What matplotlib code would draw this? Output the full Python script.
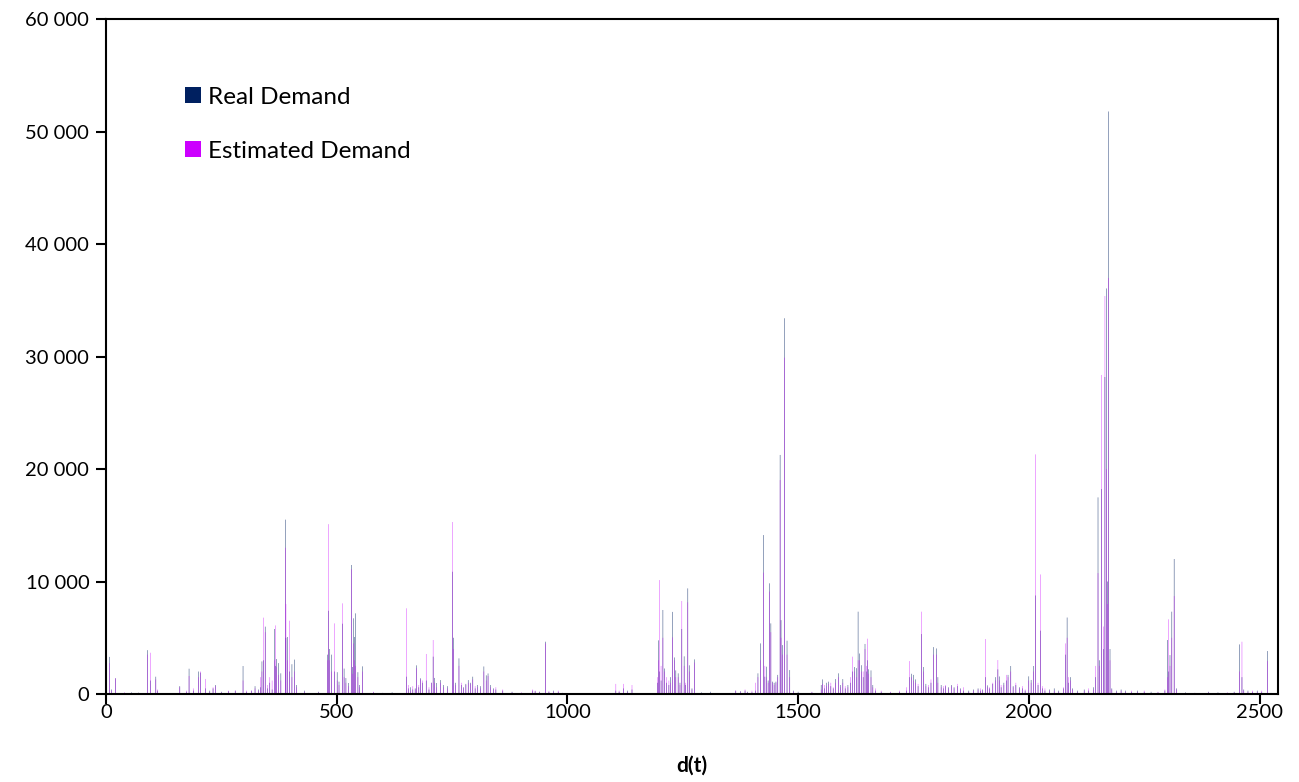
import matplotlib
matplotlib.use("Agg")
import matplotlib.pyplot as plt
from matplotlib.patches import Patch
from matplotlib.ticker import FuncFormatter

plt.rcParams['font.family'] = ['Lato', 'DejaVu Sans']

# time index of each non-zero observation
t_index = [8, 12, 21, 40, 55, 70, 90, 97, 108, 112, 160, 175, 180, 190, 200, 205, 216, 225, 232, 237,
           250, 265, 280, 297, 305, 315, 323, 330, 335, 338, 341, 345, 350, 355, 360, 365, 367, 369, 374, 379,
           389, 390, 393, 398, 403, 409, 413, 430, 460, 480, 482, 485, 489, 495, 501, 505, 512, 516, 520, 525,
           532, 534, 537, 539, 541, 546, 550, 556, 580, 600, 620, 651, 655, 660, 665, 670, 673, 678, 682, 686,
           694, 700, 706, 709, 712, 716, 725, 732, 740, 751, 753, 758, 765, 770, 775, 780, 785, 790, 795, 800,
           805, 812, 819, 824, 828, 833, 840, 845, 860, 880, 900, 925, 930, 940, 952, 960, 970, 980, 990, 1020,
           1060, 1105, 1112, 1122, 1130, 1140, 1195, 1198, 1200, 1203, 1207, 1210, 1215, 1220, 1224, 1228, 1232, 1235, 1240, 1244,
           1248, 1253, 1256, 1261, 1264, 1270, 1276, 1290, 1310, 1365, 1375, 1385, 1390, 1400, 1408, 1413, 1419, 1425, 1428, 1431,
           1435, 1438, 1441, 1445, 1448, 1452, 1456, 1461, 1463, 1466, 1471, 1476, 1482, 1490, 1500, 1530, 1550, 1553, 1557, 1562,
           1566, 1571, 1576, 1581, 1587, 1592, 1597, 1602, 1608, 1614, 1618, 1622, 1626, 1630, 1633, 1637, 1641, 1645, 1648, 1650,
           1653, 1658, 1662, 1668, 1680, 1700, 1720, 1735, 1742, 1746, 1750, 1755, 1760, 1768, 1772, 1777, 1782, 1788, 1794, 1800,
           1803, 1810, 1815, 1820, 1826, 1832, 1838, 1845, 1852, 1858, 1870, 1880, 1890, 1895, 1900, 1906, 1910, 1915, 1922, 1928,
           1933, 1936, 1940, 1946, 1952, 1955, 1961, 1966, 1972, 1980, 1986, 1992, 2000, 2005, 2010, 2015, 2020, 2025, 2030, 2035,
           2045, 2055, 2065, 2075, 2080, 2083, 2086, 2090, 2095, 2105, 2120, 2130, 2140, 2145, 2150, 2153, 2158, 2162, 2165, 2168,
           2171, 2173, 2176, 2180, 2190, 2200, 2210, 2222, 2235, 2250, 2265, 2280, 2295, 2301, 2303, 2306, 2310, 2315, 2320, 2340,
           2360, 2390, 2410, 2430, 2445, 2457, 2462, 2466, 2475, 2485, 2495, 2505, 2517, 2525]

real_demand = [3300, 400, 1400, 100, 150, 120, 3900, 1200, 1540, 300, 700, 200, 2250, 300, 2000, 1900, 500, 300, 500, 800,
               200, 250, 300, 2490, 200, 300, 700, 400, 600, 2900, 3000, 5990, 500, 1000, 400, 5780, 2500, 3110, 2750, 1840,
               15500, 5000, 5070, 2000, 2650, 3060, 800, 300, 200, 3500, 7400, 4000, 3500, 2000, 1940, 1100, 6250, 2260, 1420, 980,
               11470, 2400, 6730, 5070, 7170, 1940, 800, 2460, 150, 100, 150, 1540, 500, 600, 400, 500, 2550, 600, 1400, 1000,
               1200, 400, 1000, 3320, 1430, 980, 1240, 800, 700, 10870, 5000, 1000, 3170, 800, 600, 900, 1240, 1000, 1540, 500,
               800, 700, 2450, 1660, 1830, 800, 500, 400, 300, 200, 100, 300, 250, 200, 4650, 200, 300, 200, 100, 50,
               80, 300, 200, 500, 300, 400, 1000, 4770, 2000, 1200, 7470, 2270, 1000, 800, 1500, 7300, 3250, 2100, 1840, 1000,
               5780, 3350, 800, 9390, 2550, 500, 3080, 150, 200, 300, 250, 300, 200, 150, 300, 1840, 4500, 14130, 1540, 2430,
               1200, 9840, 6280, 1100, 1000, 1100, 1700, 21250, 6570, 4350, 33400, 4740, 2130, 300, 200, 150, 800, 1300, 500, 1000,
               1100, 700, 500, 1330, 1840, 800, 1330, 500, 800, 1000, 2000, 2400, 2300, 7320, 3600, 2560, 1500, 4450, 2000, 3000,
               2200, 2100, 800, 300, 200, 150, 200, 300, 1500, 1800, 1700, 1300, 700, 5330, 2400, 900, 600, 1000, 4170, 4050,
               1500, 800, 500, 700, 600, 800, 600, 700, 500, 300, 300, 400, 500, 300, 400, 1500, 770, 500, 900, 1500,
               2190, 1560, 600, 1000, 1200, 1700, 2490, 700, 800, 600, 500, 300, 1570, 1250, 2490, 8760, 800, 5630, 500, 300,
               400, 500, 300, 500, 3500, 6800, 1000, 1500, 500, 300, 400, 300, 600, 1500, 17480, 3000, 18220, 4000, 28180, 36050,
               10000, 51780, 4000, 500, 300, 400, 300, 200, 300, 200, 200, 150, 300, 4800, 2000, 3460, 7320, 12000, 500, 150,
               100, 200, 150, 100, 200, 4410, 1500, 400, 300, 200, 300, 200, 3820, 100]

estimated_demand = [2750, 300, 1400, 150, 100, 100, 3500, 3670, 1300, 400, 600, 300, 1600, 500, 1500, 2000, 1340, 200, 600, 700,
                    150, 300, 300, 1200, 300, 300, 500, 300, 1500, 2000, 6790, 5500, 800, 1500, 1200, 3000, 6100, 2400, 1700, 1200,
                    13000, 8000, 3000, 6520, 1500, 2000, 600, 200, 150, 3000, 15100, 3000, 2000, 6280, 1200, 800, 8060, 1500, 1000, 700,
                    11090, 1800, 4500, 3000, 2500, 1500, 600, 2000, 200, 100, 100, 7620, 800, 300, 700, 400, 2300, 800, 1300, 1200,
                    3560, 600, 1000, 4800, 1000, 600, 1000, 600, 500, 15290, 4000, 800, 2500, 1000, 500, 800, 1000, 900, 1300, 700,
                    600, 500, 2000, 1200, 1600, 600, 400, 600, 400, 150, 150, 400, 300, 200, 4500, 250, 200, 300, 100, 50,
                    50, 900, 300, 900, 200, 800, 1500, 3000, 10130, 2500, 5000, 2000, 1500, 1200, 1000, 5040, 3000, 1500, 1500, 800,
                    8270, 2500, 1000, 8150, 2000, 400, 2800, 100, 100, 300, 200, 400, 150, 300, 1000, 1500, 3000, 10790, 2500, 1500,
                    1000, 9100, 5500, 1000, 800, 1000, 1500, 19020, 5000, 3500, 29900, 3500, 1500, 200, 100, 200, 400, 900, 800, 700,
                    900, 1000, 600, 1000, 1500, 600, 1000, 700, 600, 1500, 3320, 2000, 1500, 3000, 3000, 2000, 2000, 4000, 2500, 4920,
                    1800, 1500, 600, 500, 300, 200, 300, 600, 2930, 1500, 1200, 1000, 900, 7320, 2000, 700, 800, 1300, 3500, 3500,
                    1000, 600, 700, 800, 500, 700, 500, 900, 400, 600, 200, 300, 400, 500, 300, 4890, 600, 600, 1000, 1200,
                    3020, 1200, 800, 800, 1700, 1500, 2000, 600, 1000, 500, 700, 400, 1200, 1000, 2000, 21300, 1000, 10630, 700, 500,
                    300, 300, 200, 600, 4500, 5000, 1500, 1200, 400, 200, 300, 500, 400, 2500, 10750, 2500, 28360, 6000, 35380, 20000,
                    8000, 36980, 3000, 400, 200, 300, 200, 300, 200, 300, 100, 200, 400, 1500, 6640, 2500, 5000, 8710, 400, 100,
                    100, 150, 100, 150, 150, 2000, 4650, 300, 200, 300, 200, 300, 2930, 50]

series_names = ['Real Demand', 'Estimated Demand']
y_ticks = [0, 10000, 20000, 30000, 40000, 50000, 60000]
x_ticks = [0, 500, 1000, 1500, 2000, 2500]

real_color = '#002060'
est_color = '#CC00FF'

fig = plt.figure(figsize=(12.99, 7.82), dpi=100)
ax = fig.add_axes([0.0816, 0.1125, 0.9022, 0.8632])

ax.bar(t_index, real_demand, width=1.0, color=real_color, alpha=0.9, linewidth=0, snap=False)
ax.bar(t_index, estimated_demand, width=1.0, color=est_color, alpha=0.75, linewidth=0, snap=False)

ax.set_xlim(0, 2540)
ax.set_ylim(0, 60000)
ax.set_yticks(y_ticks)
ax.set_xticks(x_ticks)
ax.yaxis.set_major_formatter(FuncFormatter(lambda v, p: f"{int(v):,}".replace(",", " ")))
ax.tick_params(axis='both', labelsize=14.5, direction='out', length=7, width=1.5, colors='black')
ax.tick_params(axis='x', pad=0)
ax.tick_params(axis='y', pad=5)
for s in ax.spines.values():
    s.set_linewidth(1.5)
    s.set_color('black')

ax.set_xlabel('d(t)', fontsize=15, fontweight='bold', labelpad=25)

handles = [Patch(facecolor=real_color, edgecolor='none'), Patch(facecolor=est_color, edgecolor='none')]
leg = ax.legend(handles, series_names, loc='upper left', bbox_to_anchor=(0.0595, 0.914), frameon=False,
                fontsize=17.5, handlelength=0.62, handleheight=0.62, handletextpad=0.3, labelspacing=1.35,
                borderaxespad=0)

fig.savefig('out.png', dpi=100)
